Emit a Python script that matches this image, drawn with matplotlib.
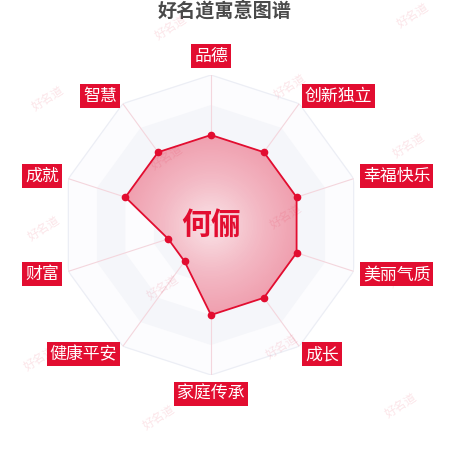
import numpy as np
import matplotlib
matplotlib.use("Agg")
import matplotlib.pyplot as plt
from matplotlib.colors import LinearSegmentedColormap

plt.rcParams['font.family'] = ['Noto Sans CJK SC', 'DejaVu Sans']

# ---- data ----
title = "好名道寓意图谱"
name = "何俪"
categories = ["品德", "创新独立", "幸福快乐", "美丽气质", "成长",
              "家庭传承", "健康平安", "财富", "成就", "智慧"]
values = [60, 60, 60, 60, 60, 60, 30, 30, 60, 60]
max_value = 100
ring_levels = [100, 80, 60, 40, 20]
watermark = "好名道"

RED = '#e20d30'
W, H = 450, 450
fig = plt.figure(figsize=(W / 100, H / 100), dpi=100)

# radar axes: centre (211,225) px, radius 150 px
cx, cy, R = 211, 225, 150
ax = fig.add_axes([(cx - R) / W, (H - cy - R) / H, 2 * R / W, 2 * R / H],
                  projection='polar')
ax.set_theta_zero_location('N')
ax.set_theta_direction(-1)
ax.set_ylim(0, max_value)
ax.axis('off')

n = len(categories)
theta = np.arange(n) * 2 * np.pi / n
theta_c = np.append(theta, theta[0])

# split-area bands
band_colors = ['#fcfcfe', '#f5f6fa', '#fcfcfe', '#f5f6fa', '#fcfcfe']
for lvl, col in zip(ring_levels, band_colors):
    ax.fill(theta_c, [lvl] * (n + 1), color=col, lw=0, zorder=1)
ax.plot(theta_c, [ring_levels[0]] * (n + 1), color='#eceef5', lw=0.9, zorder=2)
for t in theta:
    ax.plot([t, t], [0, max_value], color='#f4d6dd', lw=0.8, zorder=2)

# data polygon with radial gradient
vals_c = values + values[:1]
poly = ax.fill(theta_c, vals_c, color='none', lw=0, zorder=3)[0]
tg = np.linspace(0, 2 * np.pi, 361)
rg = np.linspace(0, max(values) + 2, 60)
T, Rr = np.meshgrid(tg, rg)
cmap = LinearSegmentedColormap.from_list('g', ['#f9e2e6', '#f3bac5', '#ef9cac'])
mesh = ax.pcolormesh(T, Rr, Rr, cmap=cmap, vmin=0, vmax=62,
                     shading='auto', zorder=3)
mesh.set_clip_path(poly)
ax.plot(theta_c, vals_c, color=RED, lw=1.3, zorder=4)
ax.plot(theta, values, 'o', color=RED, ms=4.5, zorder=5)

# category labels
lab_r = 106.5
for t, lab in zip(theta, categories):
    s = np.sin(t)
    c = np.cos(t)
    if abs(s) < 0.01:
        ha = 'center'
        va = 'bottom' if c > 0 else 'top'
    else:
        ha = 'left' if s > 0 else 'right'
        va = 'center'
    ax.text(t, lab_r, lab, ha=ha, va=va, color='white', fontsize=12.2,
            zorder=6,
            bbox=dict(boxstyle='square,pad=0.18', fc=RED, ec='none'))

# centre name
ax.text(0, 0, name, ha='center', va='center', color=RED, fontsize=21.5,
        fontweight='bold', zorder=7)

# title
fig.text(0.499, 1 - 11 / H, title, ha='center', va='center',
         fontsize=13.8, fontweight='bold', color='#4a4a4a')

# watermark lattice
origin = np.array([413.0, 15.0])
a = np.array([-4.0, 130.0])
b = np.array([-123.0, 71.0])
for i in range(-2, 6):
    for j in range(-2, 6):
        p = origin + i * a + j * b
        if 10 < p[0] < W - 10 and 10 < p[1] < H - 10:
            fig.text(p[0] / W, 1 - p[1] / H, watermark, ha='center',
                     va='center', rotation=33, fontsize=8.5,
                     color=RED, alpha=0.11, zorder=10)

fig.savefig('out.png', dpi=100)
